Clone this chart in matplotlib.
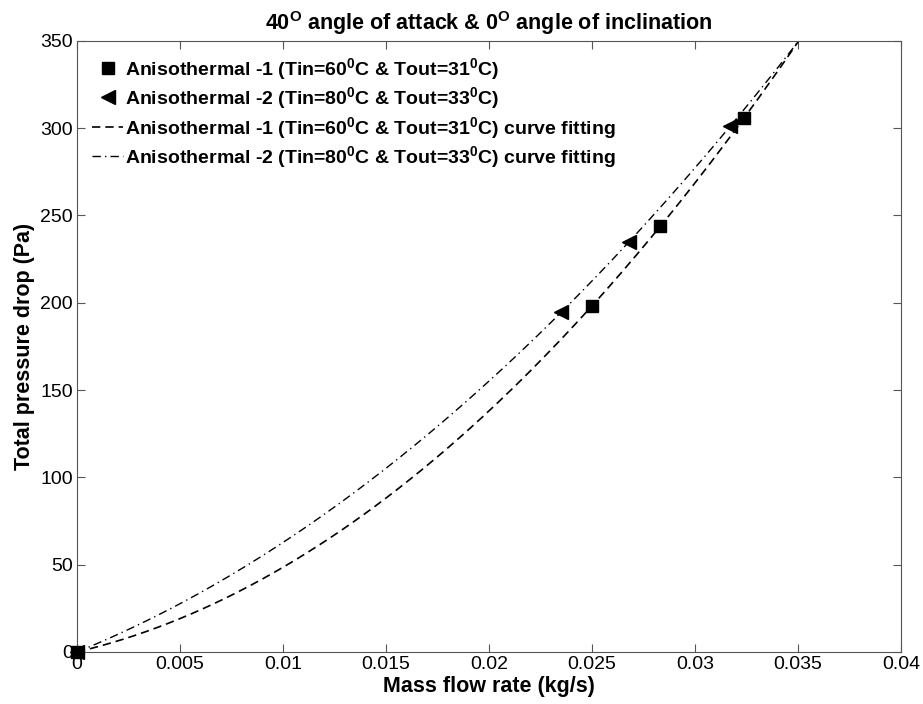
import numpy as np
import matplotlib
matplotlib.use('Agg')
import matplotlib.pyplot as plt

plt.rcParams['font.family'] = ['Liberation Sans', 'DejaVu Sans']
plt.rcParams['mathtext.fontset'] = 'custom'
plt.rcParams['mathtext.rm'] = 'Liberation Sans:bold'
plt.rcParams['mathtext.it'] = 'Liberation Sans:bold'
plt.rcParams['mathtext.bf'] = 'Liberation Sans:bold'

flow_1 = [0.0, 0.0250, 0.0283, 0.0324]
dp_1 = [0.0, 198.0, 244.0, 306.0]
flow_2 = [0.0, 0.0235, 0.0268, 0.0317]
dp_2 = [0.0, 194.5, 235.0, 301.0]

lab_1 = 'Anisothermal -1 (Tin=60$^0$C & Tout=31$^0$C)'
lab_2 = 'Anisothermal -2 (Tin=80$^0$C & Tout=33$^0$C)'

# second order curve fitting of the measured points
p1 = np.polyfit(flow_1, dp_1, 2)
p2 = np.polyfit(flow_2, dp_2, 2)
xf = np.linspace(0, 0.037, 200)

fig = plt.figure(figsize=(9.23, 7.04), dpi=100)
ax = fig.add_axes([0.0834, 0.0739, 0.8928, 0.868])

ax.plot(flow_1, dp_1, 's', color='k', ms=9, label=lab_1, clip_on=False, zorder=4)
ax.plot(flow_2, dp_2, '<', color='k', ms=10, label=lab_2, clip_on=False, zorder=4)
ax.plot(xf, np.polyval(p1, xf), '--', color='k', lw=1.2, dashes=(5, 3),
        label=lab_1 + ' curve fitting')
ax.plot(xf, np.polyval(p2, xf), '-.', color='k', lw=1.0, dashes=(6, 3, 1, 3),
        label=lab_2 + ' curve fitting')

ax.set_xlim(0, 0.04)
ax.set_ylim(0, 350)
ax.set_xticks(np.arange(0, 0.0401, 0.005))
ax.set_xticklabels(['0', '0.005', '0.01', '0.015', '0.02', '0.025', '0.03', '0.035', '0.04'])
ax.set_yticks(np.arange(0, 351, 50))
ax.tick_params(direction='in', top=True, right=True, labelsize=14, length=6,
               color='#555555', pad=3)
for s in ax.spines.values():
    s.set_color('#555555')

ax.set_xlabel('Mass flow rate (kg/s)', fontsize=15.5, fontweight='bold', labelpad=2)
ax.set_ylabel('Total pressure drop (Pa)', fontsize=15.5, fontweight='bold', labelpad=4)
ax.set_title('40$^{O}$ angle of attack & 0$^{O}$ angle of inclination',
             fontsize=15.5, fontweight='bold', pad=8)

leg = ax.legend(loc='upper left', frameon=False, handlelength=1.6, handletextpad=0.1,
                borderaxespad=0.37, borderpad=0.4, labelspacing=0.18,
                prop={'weight': 'bold', 'size': 14})

fig.savefig('out.png', dpi=100)
